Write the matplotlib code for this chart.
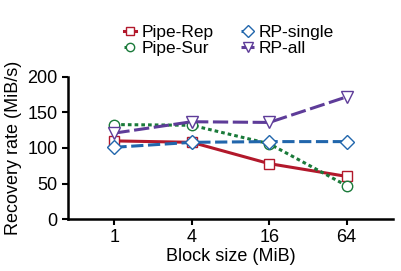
import matplotlib.pyplot as plt

plt.rcParams['font.family'] = ['Liberation Sans', 'DejaVu Sans']

block_sizes = ["1", "4", "16", "64"]
pipe_rep = [110, 108, 78, 60]
pipe_sur = [133, 132, 106, 47]
rp_single = [101, 108, 109, 109]
rp_all = [121, 137, 136, 172]

x = list(range(len(block_sizes)))

fig = plt.figure(figsize=(4.02, 2.71), dpi=100)
ax = fig.add_axes([68 / 402, 52 / 271, 325 / 402, 142 / 271])

ax.plot(x, pipe_rep, color="#b2182b", lw=2.2, ls="-", marker="s", ms=7.5,
        mfc="white", mec="#b2182b", mew=1.0, label="Pipe-Rep")
ax.plot(x, pipe_sur, color="#1a7a3a", lw=2.2, ls=(0, (1.2, 1.0)), marker="o", ms=7.5,
        mfc="white", mec="#1a7a3a", mew=1.0, label="Pipe-Sur")
ax.plot(x, rp_single, color="#2166ac", lw=2.2, ls=(0, (4, 1.5)), marker="D", ms=7.5,
        mfc="white", mec="#2166ac", mew=1.0, label="RP-single")
ax.plot(x, rp_all, color="#5e3c99", lw=2.2, ls=(0, (5, 1.5)), marker="v", ms=9,
        mfc="white", mec="#5e3c99", mew=1.0, label="RP-all")

ax.set_xlim(-0.6, 3.6)
ax.set_ylim(0, 200)
ax.set_yticks([0, 50, 100, 150, 200])
ax.set_xticks(x)
ax.set_xticklabels(block_sizes)
ax.tick_params(labelsize=13, width=1.5, length=4)
ax.spines["top"].set_visible(False)
ax.spines["right"].set_visible(False)
ax.spines["left"].set_linewidth(1.8)
ax.spines["bottom"].set_linewidth(1.8)
ax.set_xlabel("Block size (MiB)", fontsize=13, labelpad=1)
ax.set_ylabel("Recovery rate (MiB/s)", fontsize=13, labelpad=4)

fig.legend(loc="upper center", bbox_to_anchor=(0.57, 0.945), ncol=2, frameon=False,
           fontsize=12.5, handlelength=0.7, handletextpad=0.3, columnspacing=1.6,
           labelspacing=0.0, borderpad=0.1, markerscale=0.8)

fig.savefig("out.png", dpi=100)
